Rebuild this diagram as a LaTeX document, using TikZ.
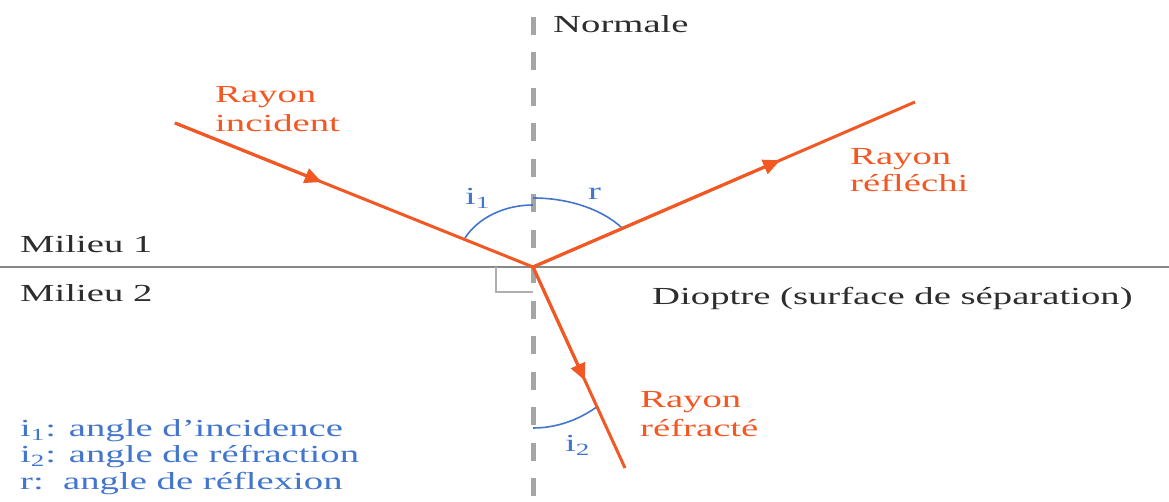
\documentclass[tikz,border=0pt]{standalone}
\usepackage{fontspec}
\setmainfont{Liberation Serif}
\usetikzlibrary{arrows.meta}
\definecolor{rayc}{RGB}{242,88,36}
\definecolor{arcc}{RGB}{66,118,205}
\definecolor{txtc}{RGB}{45,45,45}
\definecolor{normc}{RGB}{165,165,165}
\definecolor{surfc}{RGB}{135,135,135}
\definecolor{sqc}{RGB}{175,175,175}
\newcommand\sx[1]{\scalebox{1.58}[1]{#1}}
\tikzset{
  lbl/.style={inner sep=0pt, anchor=base west, font=\fontsize{24.5pt}{28pt}\selectfont},
  graylbl/.style={lbl, text=txtc},
  redlbl/.style={lbl, text=rayc},
  bluelbl/.style={lbl, text=arcc},
  ray/.style={draw=rayc, line width=3pt},
  raytip/.style={draw=rayc, fill=rayc, line width=3pt, -{Triangle[length=17pt,width=15pt]}},
  anglearc/.style={draw=arcc, line width=1.6pt},
  normalline/.style={draw=normc, line width=5pt, dash pattern=on 18pt off 17.5pt},
  surface/.style={draw=surfc, line width=2.5pt},
  rightangle/.style={draw=sqc, line width=1.3pt}
}
\begin{document}
\begin{tikzpicture}[x=1pt,y=1pt]
\useasboundingbox (0,0) rectangle (1169,502);
% key points
\coordinate (O) at (533,235);
\coordinate (A) at (175,379);
\coordinate (B) at (915,400);
\coordinate (C) at (625,34);
\coordinate (Ntop) at (533,485);
\coordinate (Nbot) at (533,0);
\coordinate (Sl) at (0,235);
\coordinate (Sr) at (1169,235);
\coordinate (Q1) at (496,235);
\coordinate (Q2) at (496,210);
\coordinate (Q3) at (533,210);
% surface and normal
\draw[surface] (Sl) -- (Sr);
\draw[normalline] (Ntop) -- (Nbot);
% right angle mark
\draw[rightangle] (Q1) -- (Q2) -- (Q3);
% angle arcs
\draw[anglearc] ([shift={(90:77 and 62)}]O) arc[start angle=90, end angle=152, x radius=77, y radius=62];
\draw[anglearc] ([shift={(34.4:108 and 69)}]O) arc[start angle=34.4, end angle=90, x radius=108, y radius=69];
\draw[anglearc] ([shift={(-90:129 and 161)}]O) arc[start angle=-90, end angle=-59.7, x radius=129, y radius=161];
% rays
\path (A) -- (O) coordinate[pos=0.41] (tA);
\path (O) -- (B) coordinate[pos=0.647] (tB);
\path (O) -- (C) coordinate[pos=0.565] (tC);
\draw[ray] (A) -- (O);
\draw[ray] (O) -- (B);
\draw[ray] (O) -- (C);
\draw[raytip] (A) -- (tA);
\draw[raytip] (O) -- (tB);
\draw[raytip] (O) -- (tC);
% labels
\node[graylbl] (normale) at (553,469) {\sx{Normale}};
\node[graylbl] (mil1) at (20,249) {\sx{Milieu 1}};
\node[graylbl] (mil2) at (20,200) {\sx{Milieu 2}};
\node[graylbl] (diop) at (652,197) {\sx{Dioptre (surface de séparation)}};
\node[redlbl] (inc1) at (215,399) {\sx{Rayon}};
\node[redlbl] (inc2) at (215,370) {\sx{incident}};
\node[redlbl] (ref1) at (850,337) {\sx{Rayon}};
\node[redlbl] (ref2) at (850,310) {\sx{réfléchi}};
\node[redlbl] (rfr1) at (640,94) {\sx{Rayon}};
\node[redlbl] (rfr2) at (640,65) {\sx{réfracté}};
\node[bluelbl] (li1) at (465,297) {\sx{i\textsubscript{1}}};
\node[bluelbl] (lr) at (588,302) {\sx{r}};
\node[bluelbl] (li2) at (565,50) {\sx{i\textsubscript{2}}};
\node[bluelbl] (leg1) at (20,65) {\sx{i\textsubscript{1}: angle d’incidence}};
\node[bluelbl] (leg2) at (20,39) {\sx{i\textsubscript{2}: angle de réfraction}};
\node[bluelbl] (leg3) at (20,12) {\sx{r:\ \ angle de réflexion}};
\end{tikzpicture}
\end{document}
